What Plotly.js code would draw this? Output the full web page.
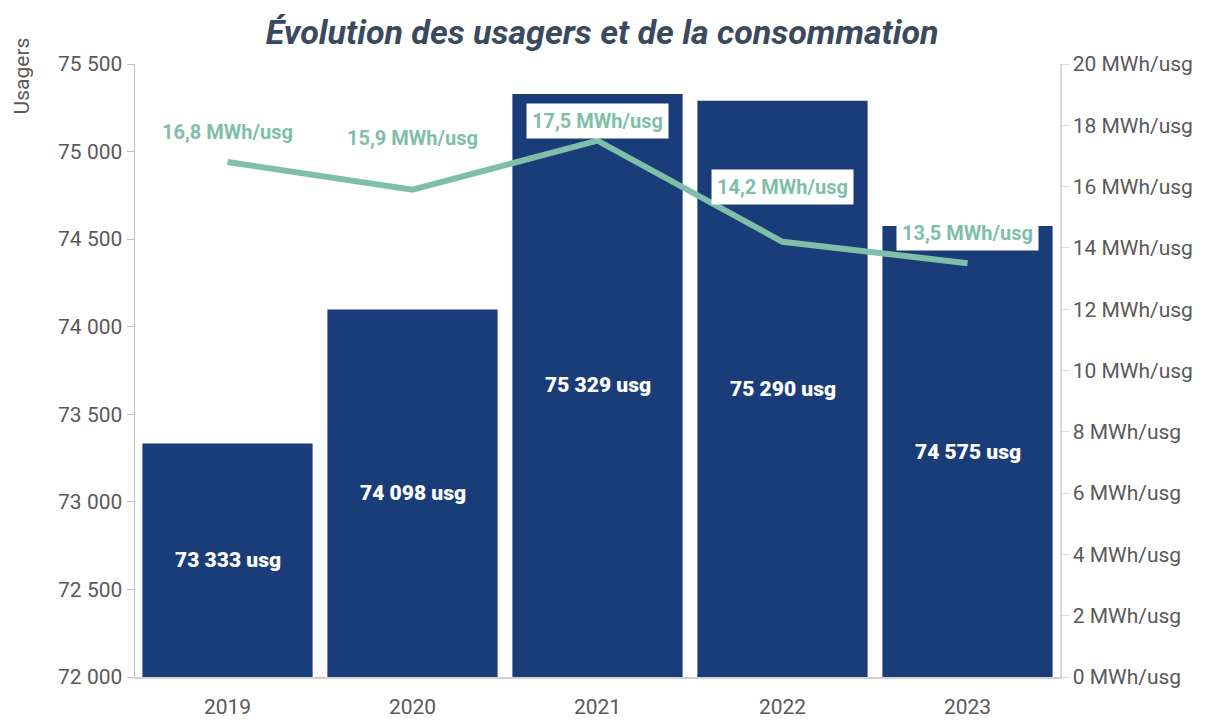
<!DOCTYPE html>
<html>
<head>
<meta charset="utf-8">
<script src="https://cdn.plot.ly/plotly-3.0.1.min.js"></script>
<style>
  html, body { margin: 0; padding: 0; background: #fff; }
  #chart { width: 1216px; height: 720px; }
</style>
</head>
<body>
<div id="chart"></div>
<script>
// Données
const years = ['2019', '2020', '2021', '2022', '2023'];
const usagers = [73333, 74098, 75329, 75290, 74575];
const consoParUsager = [16.8, 15.9, 17.5, 14.2, 13.5];

const yMin = 72000, yMax = 75500;

// Décalage vertical des étiquettes de consommation (px)
const labelShift = [30, 52, 20, 55, 30];

const navy = '#1a3c78';
const green = '#7fbfa9';
const grey = '#595959';
const baseFont = 'Roboto, "DejaVu Sans", sans-serif';

function milliers(n) {
    return String(n).replace(/\B(?=(\d{3})+(?!\d))/g, ' ');
}

const bars = {
    x: years,
    y: usagers,
    type: 'bar',
    marker: { color: navy },
    hoverinfo: 'skip'
};

const line = {
    x: years,
    y: consoParUsager,
    yaxis: 'y2',
    type: 'scatter',
    mode: 'lines',
    line: { color: green, width: 6 },
    hoverinfo: 'skip'
};

// Étiquettes de consommation (au-dessus de la courbe)
const labels = years.map((yr, i) => ({
    x: i,
    y: consoParUsager[i],
    xref: 'x',
    yref: 'y2',
    yshift: labelShift[i],
    text: consoParUsager[i].toFixed(1).replace('.', ',') + ' MWh/usg',
    showarrow: false,
    bgcolor: '#ffffff',
    borderpad: 5,
    font: { family: baseFont, size: 20, color: green, weight: 'bold' }
}));

// Étiquettes d'usagers (au milieu de la partie visible des barres)
years.forEach((yr, i) => {
    labels.push({
        x: i,
        y: (yMin + usagers[i]) / 2,
        xref: 'x',
        yref: 'y',
        text: milliers(usagers[i]) + ' usg',
        showarrow: false,
        font: { family: baseFont, size: 21, color: '#ffffff', weight: 900 }
    });
});

labels.push({
    xref: 'paper', yref: 'paper',
    x: -0.122, y: 0.98,
    xanchor: 'center', yanchor: 'middle',
    text: 'Usagers',
    textangle: -90,
    showarrow: false,
    font: { family: baseFont, size: 21, color: grey }
});

const layout = {
    width: 1216,
    height: 720,
    margin: { l: 135, r: 156, t: 64, b: 43 },
    paper_bgcolor: '#ffffff',
    plot_bgcolor: '#ffffff',
    separators: ', ',
    showlegend: false,
    bargap: 0.08,
    title: {
        text: '<i>Évolution des usagers et de la consommation</i>',
        x: 0.505,
        xref: 'paper',
        y: 0.955,
        yanchor: 'middle',
        font: { family: baseFont, size: 34, color: '#3a4a5e', weight: 'bold' }
    },
    xaxis: {
        type: 'category',
        range: [-0.5, 4.5],
        showline: true,
        linecolor: '#d0d0d0',
        linewidth: 1.5,
        ticks: 'outside',
        ticklen: 10,
        tickcolor: 'rgba(0,0,0,0)',
        tickfont: { family: baseFont, size: 21, color: grey },
        showgrid: false
    },
    yaxis: {
        range: [yMin, yMax],
        dtick: 500,
        tickformat: ',d',
        showline: true,
        linecolor: '#bfbfbf',
        linewidth: 1.5,
        ticks: 'outside',
        ticklen: 7,
        tickcolor: '#bfbfbf',
        showgrid: false,
        zeroline: false,
        tickfont: { family: baseFont, size: 21, color: grey }
    },
    yaxis2: {
        overlaying: 'y',
        side: 'right',
        range: [0, 20],
        dtick: 2,
        ticksuffix: ' MWh/usg',
        showline: true,
        linecolor: '#d9d9d9',
        linewidth: 1.5,
        ticks: 'outside',
        ticklen: 7,
        tickcolor: '#d9d9d9',
        showgrid: false,
        zeroline: false,
        tickfont: { family: baseFont, size: 21, color: grey }
    },
    annotations: labels
};

Plotly.newPlot('chart', [bars, line], layout, { displayModeBar: false, staticPlot: true });
</script>
</body>
</html>
